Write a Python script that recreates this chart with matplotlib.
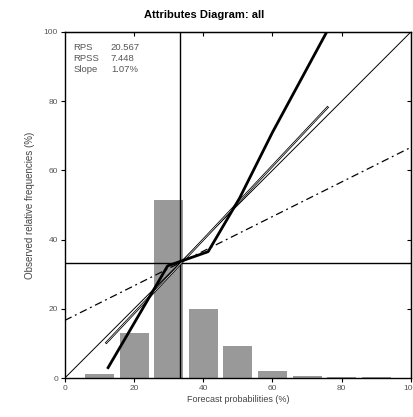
import matplotlib
matplotlib.use("Agg")
import matplotlib.pyplot as plt
import numpy as np

# histogram of forecast frequency (%)
bin_centers = [10, 20, 30, 40, 50, 60, 70, 80, 90]
bin_freq = [1.3, 12.9, 51.4, 20.0, 9.2, 2.0, 0.5, 0.2, 0.2]

# reliability curve
rel_x = [12.5, 20.0, 29.7, 41.4, 50.5, 60.0, 70.0, 80.0]
rel_y = [3.0, 15.8, 32.4, 36.5, 52.0, 71.0, 89.5, 108.0]

# weighted regression line
fit_x = [12.0, 75.9]
fit_y = [10.2, 78.2]

clim = 33.3
stats_names = ["RPS", "RPSS", "Slope"]
stats_vals = ["20.567", "7.448", "1.07%"]

plt.rcParams['font.family'] = ['Liberation Sans', 'DejaVu Sans']

fig = plt.figure(figsize=(4.13, 4.17), dpi=100)
ax = fig.add_axes([0.157, 0.0935, 0.838, 0.83])

ax.bar(bin_centers, bin_freq, width=8.4, color='#999999', zorder=1)

# perfect reliability
ax.plot([0, 100], [0, 100], color='black', lw=0.7, zorder=3)
# no-skill line
xs = np.array([0, 100])
ax.plot(xs, (xs + clim) / 2, color='black', lw=0.9, dashes=(6, 3, 1.5, 3), zorder=3)
# climatology lines
ax.axhline(clim, color='black', lw=1.0, zorder=3)
ax.axvline(clim, color='black', lw=1.0, zorder=3)
# regression line (double thin line)
ax.plot(fit_x, fit_y, color='black', lw=1.6, zorder=4)
ax.plot(fit_x, fit_y, color='white', lw=0.45, zorder=4)
# reliability curve
ax.plot(rel_x, rel_y, color='black', lw=2.0, zorder=5)

ax.set_xlim(0, 100)
ax.set_ylim(0, 100)
ax.set_xticks([0, 20, 40, 60, 80, 100])
ax.set_yticks([0, 20, 40, 60, 80, 100])
ax.tick_params(direction='out', length=3, width=0.8, labelsize=6, labelcolor='#555555', pad=2)
for s in ax.spines.values():
    s.set_linewidth(1.0)

top = ax.secondary_xaxis('top')
top.set_xticks([20, 40, 60, 80])
top.tick_params(direction='in', length=3, width=0.8, labeltop=False)
right = ax.secondary_yaxis('right')
right.set_yticks([20, 40, 60, 80])
right.tick_params(direction='in', length=3, width=0.8, labelright=False)

ax.set_xlabel("Forecast probabilities (%)", fontsize=6.5, color='#444444', labelpad=2)
ax.set_ylabel("Observed relative frequencies (%)", fontsize=7, color='#444444', labelpad=6)
fig.text(0.495, 0.965, "Attributes Diagram: all", ha='center', va='center', fontsize=8, fontweight='bold')

for i, (n, v) in enumerate(zip(stats_names, stats_vals)):
    ax.text(2.5, 95.5 - i * 3.2, n, fontsize=6.8, color='#555555', va='center')
    ax.text(13.3, 95.5 - i * 3.2, v, fontsize=6.8, color='#555555', va='center')

fig.savefig("out.png", dpi=100)
